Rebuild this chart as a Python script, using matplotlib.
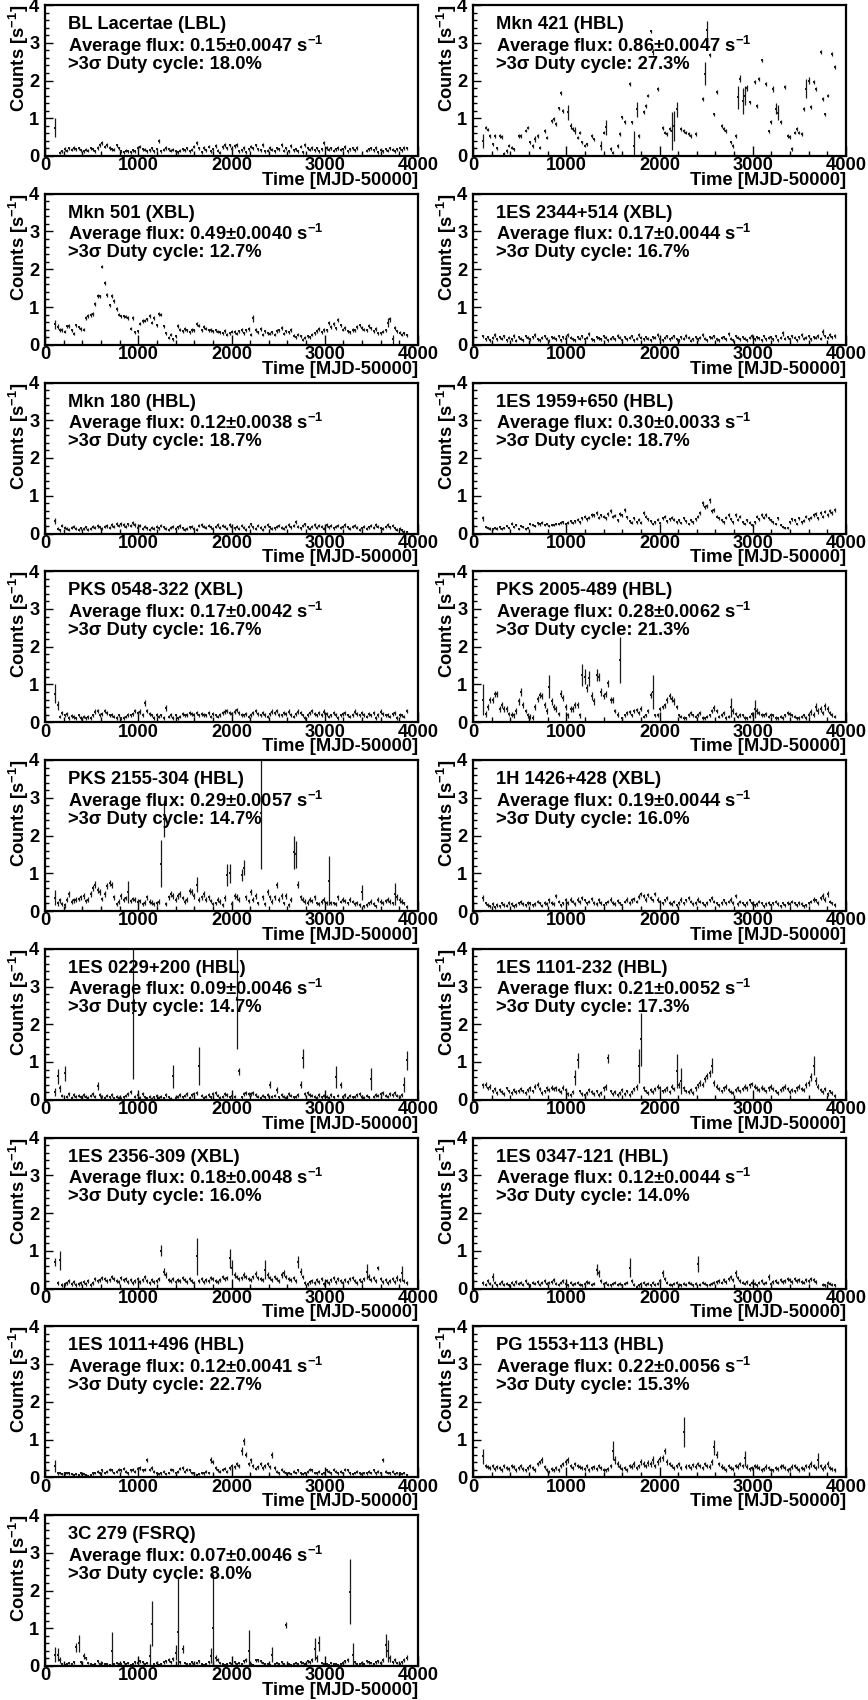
import numpy as np
import matplotlib
matplotlib.use("Agg")
import matplotlib.pyplot as plt
from matplotlib.ticker import MultipleLocator

plt.rcParams["font.family"] = ["Liberation Sans", "DejaVu Sans"]
plt.rcParams["font.weight"] = "bold"
plt.rcParams["mathtext.fontset"] = "custom"
plt.rcParams["mathtext.rm"] = "Liberation Sans:bold"
plt.rcParams["mathtext.default"] = "rm"

# time binning of the light curves (bin centres, days after MJD 50000)
FIRST_BIN_DAY = 110.0
BIN_WIDTH_DAYS = 25.3
N_BINS = 150

# count rates [s^-1] per bin (None = no exposure), errors in units of 0.01 s^-1
BLLAC_RATE = [
    0.75, None, 0.08, 0.12, 0.18, 0.14, 0.20, 0.16, 0.22, 0.18,
    0.20, 0.15, 0.12, 0.16, 0.14, 0.20, 0.18, 0.12, 0.22, 0.30,
    0.35, 0.25, 0.30, 0.22, 0.18, 0.16, 0.28, 0.20, 0.12, 0.10,
    0.14, 0.12, 0.10, 0.15, 0.13, 0.20, 0.25, 0.18, 0.16, 0.12,
    0.15, 0.20, 0.13, 0.18, 0.40, 0.12, 0.16, 0.22, 0.18, 0.14,
    0.17, 0.12, 0.10, 0.14, 0.18, 0.15, 0.20, 0.13, 0.16, 0.25,
    0.35, 0.20, 0.10, 0.22, 0.15, 0.25, 0.12, 0.18, 0.26, 0.14,
    0.08, 0.24, 0.30, 0.20, 0.28, 0.18, 0.26, 0.30, 0.12, 0.15,
    0.22, 0.10, 0.18, 0.25, 0.20, 0.28, 0.18, 0.15, 0.30, 0.12,
    0.14, 0.22, 0.16, 0.12, 0.20, 0.18, 0.30, 0.14, 0.20, 0.12,
    0.26, 0.15, 0.18, 0.12, 0.25, 0.10, 0.30, 0.20, 0.16, 0.22,
    0.15, 0.20, 0.12, 0.18, 0.35, 0.22, 0.16, 0.20, 0.14, 0.18,
    0.22, 0.16, 0.18, 0.24, 0.12, 0.18, 0.20, 0.15, 0.22, None,
    None, None, 0.14, 0.18, 0.20, 0.15, 0.22, 0.10, 0.16, 0.12,
    0.18, 0.14, 0.20, 0.16, 0.12, 0.18, 0.20, 0.15, 0.22, 0.20,
]
BLLAC_ERR = [
    25, 0, 4, 4, 5, 4, 5, 4, 5, 4,
    5, 4, 4, 4, 4, 5, 4, 4, 5, 5,
    6, 5, 5, 5, 4, 4, 5, 5, 4, 4,
    4, 4, 4, 4, 4, 5, 5, 4, 4, 4,
    4, 5, 4, 4, 6, 4, 4, 5, 4, 4,
    4, 4, 4, 4, 4, 4, 5, 4, 4, 5,
    6, 5, 4, 5, 4, 5, 4, 4, 5, 4,
    4, 5, 5, 5, 5, 4, 5, 5, 4, 4,
    5, 4, 4, 5, 5, 5, 4, 4, 5, 4,
    4, 5, 4, 4, 5, 4, 5, 4, 5, 4,
    5, 4, 4, 4, 5, 4, 5, 5, 4, 5,
    4, 5, 4, 4, 6, 5, 4, 5, 4, 4,
    5, 4, 4, 5, 4, 4, 5, 4, 5, 0,
    0, 0, 4, 4, 5, 4, 5, 4, 4, 4,
    4, 4, 5, 4, 4, 4, 5, 4, 5, 5,
]

MKN421_RATE = [
    0.40, 0.75, 0.70, 0.53, 0.31, 0.53, 0.20, 0.53, 0.50, 0.06,
    0.13, 0.27, 0.22, 0.18, None, 0.53, 0.53, None, 0.67, 0.75,
    0.36, 0.27, 0.44, 0.53, 0.22, None, 0.67, 0.49, None, 0.93,
    0.98, 0.84, 1.26, 1.66, 1.20, None, 1.16, 0.80, 0.71, 0.67,
    0.49, 0.62, 0.36, 0.27, 0.31, None, 0.53, 0.44, None, None,
    0.27, 0.62, 0.76, None, 0.18, 0.09, None, 0.27, 0.58, 1.02,
    0.90, None, 1.90, 0.89, 0.27, 1.24, 0.53, None, 1.16, 1.33,
    1.60, 3.30, 2.75, None, 1.78, None, 0.75, 0.62, 0.58, 0.71,
    0.67, 0.80, 1.24, None, 0.71, 0.67, 0.62, 0.58, 0.53, None,
    0.58, None, None, 1.50, 2.18, 3.33, 2.67, None, 1.10, 1.70,
    None, 0.80, 0.71, 0.67, None, 0.36, 0.27, 0.53, 1.55, 2.05,
    1.45, 1.60, 1.80, 1.42, None, 1.96, 1.33, 2.05, 2.53, None,
    1.90, 0.65, 0.90, 1.78, 1.25, 1.15, 0.90, None, 1.82, 0.53,
    0.50, 0.18, 0.62, 0.71, 0.62, 0.58, 1.24, 1.78, 2.00, 1.30,
    1.96, 1.78, None, 2.75, 1.50, 1.10, 1.60, None, 2.70, 2.35,
]
MKN421_ERR = [
    18, 4, 4, 4, 4, 5, 4, 4, 5, 5,
    5, 4, 4, 4, 0, 4, 4, 0, 4, 4,
    5, 5, 8, 4, 4, 0, 5, 4, 0, 5,
    4, 5, 5, 5, 5, 0, 20, 8, 5, 10,
    5, 5, 5, 4, 4, 0, 5, 5, 0, 0,
    12, 5, 20, 0, 5, 5, 0, 5, 5, 5,
    5, 0, 5, 5, 40, 20, 5, 0, 5, 5,
    5, 5, 8, 0, 5, 0, 5, 5, 5, 5,
    50, 40, 20, 0, 5, 5, 5, 5, 5, 0,
    5, 0, 0, 5, 30, 25, 5, 0, 5, 5,
    0, 5, 5, 5, 0, 5, 5, 5, 30, 10,
    35, 25, 8, 5, 0, 5, 5, 5, 5, 0,
    5, 5, 5, 8, 15, 20, 5, 0, 5, 5,
    5, 5, 5, 5, 5, 5, 5, 25, 8, 5,
    5, 5, 0, 5, 5, 5, 5, 0, 5, 5,
]

MKN501_RATE = [
    0.54, 0.48, 0.40, 0.40, 0.34, 0.49, 0.50, 0.38, 0.29, 0.51,
    0.46, 0.42, 0.40, 0.71, 0.76, 0.78, 0.82, 1.07, 1.30, 1.28,
    2.07, 1.63, 1.32, 1.04, 1.30, 1.16, 0.94, 0.80, 0.76, 0.75,
    0.74, 0.71, 0.42, 0.70, 0.33, 0.36, 0.56, 0.62, 0.64, 0.67,
    0.76, 0.58, 0.71, 0.51, 0.82, 0.80, 0.49, 0.31, 0.18, 0.27,
    0.15, 0.22, 0.49, 0.40, 0.36, 0.42, 0.38, 0.33, 0.40, 0.38,
    0.54, 0.50, 0.38, 0.46, 0.42, 0.38, 0.40, 0.36, 0.38, 0.35,
    0.33, 0.30, 0.36, 0.27, 0.31, 0.35, 0.33, 0.29, 0.36, 0.40,
    0.31, 0.38, 0.42, 0.27, 0.70, 0.40, 0.33, 0.42, 0.27, 0.36,
    0.31, 0.29, 0.33, 0.27, 0.36, 0.38, 0.45, 0.29, 0.36, 0.33,
    0.40, 0.24, 0.20, 0.27, 0.22, 0.13, 0.18, 0.22, 0.20, 0.27,
    0.31, 0.36, 0.42, 0.33, 0.40, 0.38, 0.58, 0.47, 0.54, 0.44,
    0.66, 0.51, 0.40, 0.45, 0.36, 0.33, 0.40, 0.38, 0.47, 0.51,
    0.45, 0.40, 0.38, 0.50, 0.44, 0.36, 0.42, 0.31, 0.30, 0.35,
    0.38, 0.58, 0.67, 0.15, 0.45, 0.36, 0.32, 0.27, 0.30, 0.25,
]
MKN501_ERR = [
    12, 6, 5, 5, 4, 4, 5, 4, 4, 5,
    4, 5, 4, 5, 5, 5, 5, 5, 5, 5,
    5, 5, 5, 5, 5, 5, 5, 4, 4, 5,
    4, 5, 4, 5, 4, 4, 5, 5, 4, 5,
    5, 4, 5, 4, 5, 5, 4, 4, 4, 5,
    4, 4, 5, 4, 4, 5, 4, 4, 5, 4,
    5, 4, 4, 5, 4, 4, 5, 4, 4, 4,
    4, 4, 5, 4, 4, 4, 5, 4, 4, 5,
    4, 4, 5, 4, 10, 5, 4, 5, 4, 4,
    4, 4, 4, 4, 5, 4, 5, 4, 4, 4,
    5, 4, 4, 4, 4, 4, 4, 4, 4, 4,
    4, 5, 5, 4, 5, 4, 6, 5, 5, 4,
    6, 5, 4, 5, 4, 4, 5, 4, 5, 5,
    5, 4, 4, 5, 4, 4, 5, 4, 4, 4,
    5, 12, 6, 12, 5, 4, 4, 4, 4, 4,
]

ES2344_RATE = [
    0.22, 0.15, 0.20, 0.12, 0.18, 0.25, 0.14, 0.20, 0.16, 0.22,
    0.12, 0.18, 0.15, 0.24, 0.10, 0.20, 0.16, 0.12, 0.22, 0.18,
    0.14, 0.20, 0.26, 0.15, 0.12, 0.18, 0.22, 0.16, 0.10, 0.20,
    0.18, 0.14, 0.22, 0.12, 0.20, 0.16, 0.25, 0.18, 0.14, 0.12,
    0.20, 0.16, 0.22, 0.14, 0.18, 0.28, 0.15, 0.12, 0.20, 0.17,
    0.14, 0.22, 0.18, 0.12, 0.16, 0.20, 0.15, 0.24, 0.18, 0.12,
    0.20, 0.15, 0.18, 0.22, 0.12, 0.16, 0.25, 0.18, 0.14, 0.20,
    0.16, 0.12, 0.20, 0.18, 0.26, 0.15, 0.12, 0.18, 0.22, 0.14,
    0.18, 0.22, 0.15, 0.12, 0.20, 0.16, 0.24, 0.18, 0.10, 0.15,
    0.20, 0.14, 0.18, 0.25, 0.16, 0.12, 0.20, 0.18, 0.22, 0.15,
    0.12, 0.18, 0.20, 0.15, 0.28, 0.16, 0.12, 0.22, 0.18, 0.14,
    0.20, 0.16, 0.12, 0.18, 0.24, 0.15, 0.20, 0.17, 0.12, 0.22,
    0.15, 0.18, 0.20, 0.14, 0.22, 0.12, 0.18, 0.30, 0.16, 0.20,
    0.14, 0.22, 0.18, 0.12, 0.20, 0.25, 0.16, 0.18, 0.22, 0.15,
    0.20, 0.18, 0.24, 0.16, 0.35, 0.22, 0.18, 0.26, 0.20, 0.24,
]
ES2344_ERR = [
    5, 4, 4, 4, 4, 5, 4, 4, 4, 5,
    4, 4, 4, 5, 4, 4, 4, 4, 5, 4,
    4, 4, 5, 4, 4, 4, 5, 4, 4, 4,
    4, 4, 5, 4, 4, 4, 5, 4, 4, 4,
    4, 4, 5, 4, 4, 5, 4, 4, 4, 4,
    4, 5, 4, 4, 4, 4, 4, 5, 4, 4,
    4, 4, 4, 5, 4, 4, 5, 4, 4, 4,
    4, 4, 4, 4, 5, 4, 4, 4, 5, 4,
    4, 5, 4, 4, 4, 4, 5, 4, 4, 4,
    4, 4, 4, 5, 4, 4, 4, 4, 5, 4,
    4, 4, 4, 4, 5, 4, 4, 5, 4, 4,
    4, 4, 4, 4, 5, 4, 4, 4, 4, 5,
    4, 4, 4, 4, 5, 4, 4, 6, 4, 4,
    4, 5, 4, 4, 4, 5, 4, 4, 5, 4,
    4, 4, 5, 4, 8, 5, 4, 6, 4, 5,
]

MKN180_RATE = [
    0.32, 0.12, 0.08, 0.20, 0.15, 0.12, 0.10, 0.15, 0.18, 0.12,
    0.10, 0.14, 0.12, 0.16, 0.10, 0.13, 0.18, 0.15, 0.20, 0.16,
    0.12, 0.18, 0.20, 0.15, 0.22, 0.18, 0.25, 0.20, 0.26, 0.22,
    0.18, 0.24, 0.20, 0.28, 0.22, 0.15, 0.20, 0.12, 0.18, 0.14,
    0.10, 0.15, 0.12, 0.18, 0.14, 0.20, 0.16, 0.12, 0.10, 0.15,
    0.18, 0.12, 0.16, 0.20, 0.14, 0.10, 0.12, 0.16, 0.18, 0.12,
    0.10, 0.20, 0.22, 0.18, 0.15, 0.20, 0.16, 0.12, 0.18, 0.22,
    0.15, 0.20, 0.18, 0.12, 0.22, 0.16, 0.14, 0.18, 0.12, 0.20,
    0.15, 0.10, 0.18, 0.24, 0.16, 0.12, 0.20, 0.15, 0.10, 0.18,
    0.22, 0.16, 0.12, 0.14, 0.18, 0.20, 0.15, 0.12, 0.18, 0.22,
    0.16, 0.20, 0.30, 0.18, 0.14, 0.20, 0.24, 0.16, 0.12, 0.18,
    0.22, 0.15, 0.20, 0.18, 0.12, 0.22, 0.16, 0.20, 0.14, 0.18,
    0.20, 0.15, 0.18, 0.22, 0.16, 0.12, 0.18, 0.20, 0.15, 0.10,
    0.14, 0.18, 0.12, 0.16, 0.20, 0.15, 0.22, 0.18, 0.14, 0.12,
    0.18, 0.22, 0.16, 0.20, 0.14, 0.10, 0.12, 0.08, 0.05, 0.04,
]
MKN180_ERR = [
    8, 4, 4, 4, 4, 4, 4, 4, 4, 4,
    4, 4, 4, 4, 4, 4, 4, 4, 5, 4,
    4, 4, 5, 4, 5, 4, 5, 4, 5, 5,
    4, 5, 4, 5, 5, 4, 4, 4, 4, 4,
    4, 4, 4, 4, 4, 4, 4, 4, 4, 4,
    4, 4, 4, 5, 4, 4, 4, 4, 4, 4,
    4, 4, 5, 4, 4, 4, 4, 4, 4, 5,
    4, 4, 4, 4, 5, 4, 4, 4, 4, 4,
    4, 4, 4, 5, 4, 4, 4, 4, 4, 4,
    5, 4, 4, 4, 4, 4, 4, 4, 4, 5,
    4, 4, 6, 4, 4, 4, 5, 4, 4, 4,
    5, 4, 4, 4, 4, 5, 4, 4, 4, 4,
    4, 4, 4, 5, 4, 4, 4, 4, 4, 4,
    4, 4, 4, 4, 4, 4, 5, 4, 4, 4,
    4, 5, 4, 4, 4, 4, 4, 3, 3, 3,
]

ES1959_RATE = [
    0.40, 0.18, 0.14, 0.13, 0.12, 0.15, 0.13, 0.16, 0.12, 0.14,
    0.20, 0.15, 0.26, 0.18, 0.22, 0.12, 0.20, 0.17, 0.12, 0.15,
    0.25, 0.22, 0.20, 0.27, 0.24, 0.28, 0.22, 0.26, 0.20, 0.23,
    0.22, 0.26, 0.25, 0.28, 0.30, 0.25, 0.29, 0.32, 0.28, 0.33,
    0.36, 0.30, 0.40, 0.45, 0.38, 0.42, 0.50, 0.48, 0.54, 0.42,
    0.48, 0.45, 0.40, 0.52, 0.60, 0.44, 0.47, 0.35, 0.52, 0.48,
    0.62, 0.43, 0.33, 0.28, 0.40, 0.30, 0.36, 0.28, 0.55, 0.45,
    0.38, 0.32, 0.26, 0.30, 0.36, 0.27, 0.40, 0.45, 0.33, 0.38,
    0.42, 0.36, 0.30, 0.35, 0.28, 0.40, 0.32, 0.26, 0.35, 0.30,
    0.38, 0.45, 0.55, 0.80, 0.70, 0.72, 0.88, 0.60, 0.62, 0.45,
    0.40, 0.35, 0.30, 0.42, 0.48, 0.38, 0.30, 0.50, 0.36, 0.44,
    0.30, 0.26, 0.35, 0.28, 0.22, 0.30, 0.45, 0.38, 0.50, 0.42,
    0.48, 0.40, 0.35, 0.30, 0.26, 0.40, 0.22, 0.18, 0.15, 0.14,
    0.30, 0.38, 0.35, 0.25, 0.40, 0.30, 0.34, 0.45, 0.38, 0.42,
    0.48, 0.52, 0.40, 0.55, 0.45, 0.58, 0.50, 0.60, 0.55, 0.62,
]
ES1959_ERR = [
    6, 3, 3, 3, 3, 3, 3, 3, 3, 3,
    3, 3, 4, 3, 3, 3, 3, 3, 3, 3,
    3, 3, 3, 4, 3, 4, 3, 3, 3, 3,
    3, 3, 3, 4, 4, 3, 4, 4, 3, 4,
    4, 4, 4, 4, 4, 4, 5, 4, 5, 4,
    4, 4, 4, 5, 5, 4, 4, 4, 5, 4,
    5, 4, 4, 4, 4, 4, 4, 4, 5, 4,
    4, 4, 3, 4, 4, 3, 4, 4, 4, 4,
    4, 4, 4, 4, 3, 4, 4, 3, 4, 4,
    4, 4, 5, 6, 5, 5, 6, 5, 5, 4,
    4, 4, 4, 4, 5, 4, 4, 5, 4, 4,
    4, 3, 4, 4, 3, 4, 4, 4, 5, 4,
    5, 4, 4, 4, 3, 4, 3, 3, 3, 3,
    4, 4, 4, 3, 4, 4, 4, 4, 4, 4,
    5, 5, 4, 5, 4, 5, 5, 5, 5, 5,
]

PKS0548_RATE = [
    0.75, 0.45, 0.15, 0.25, 0.18, 0.22, 0.12, 0.16, 0.14, 0.10,
    0.18, 0.12, 0.15, 0.10, 0.14, 0.12, 0.18, 0.28, 0.30, 0.20,
    0.22, 0.30, 0.25, 0.18, 0.20, 0.15, 0.12, 0.18, 0.10, 0.12,
    0.15, 0.20, 0.18, 0.22, 0.30, 0.25, 0.28, 0.20, 0.50, 0.30,
    0.22, 0.18, 0.12, 0.20, 0.15, 0.18, 0.12, 0.38, 0.15, 0.20,
    0.12, 0.18, 0.10, 0.15, 0.22, 0.18, 0.20, 0.24, 0.22, 0.20,
    0.25, 0.18, 0.22, 0.20, 0.18, 0.25, 0.15, 0.22, 0.18, 0.15,
    0.20, 0.25, 0.28, 0.30, 0.25, 0.22, 0.28, 0.32, 0.25, 0.20,
    0.18, 0.22, 0.15, 0.20, 0.25, 0.30, 0.22, 0.18, 0.25, 0.20,
    0.15, 0.22, 0.28, 0.25, 0.30, 0.20, 0.18, 0.25, 0.22, 0.28,
    0.20, 0.15, 0.22, 0.28, 0.25, 0.18, 0.12, 0.20, 0.24, 0.30,
    0.22, 0.18, 0.25, 0.20, 0.28, 0.22, 0.15, 0.18, 0.25, 0.20,
    0.12, 0.18, 0.22, 0.25, 0.18, 0.15, 0.20, 0.28, 0.22, 0.18,
    0.25, 0.20, 0.15, 0.22, 0.18, 0.25, 0.12, 0.20, 0.28, 0.22,
    0.18, 0.20, 0.15, 0.22, 0.25, 0.12, 0.20, 0.18, 0.15, 0.30,
]
PKS0548_ERR = [
    25, 12, 5, 5, 5, 5, 5, 5, 5, 5,
    5, 5, 5, 5, 5, 5, 5, 6, 6, 5,
    5, 6, 5, 5, 5, 5, 5, 5, 5, 5,
    5, 5, 5, 5, 6, 5, 6, 5, 8, 6,
    5, 5, 5, 5, 5, 5, 5, 8, 5, 5,
    5, 5, 5, 5, 5, 5, 5, 5, 5, 5,
    5, 5, 5, 5, 5, 5, 5, 5, 5, 5,
    5, 5, 6, 6, 5, 5, 6, 6, 5, 5,
    5, 5, 5, 5, 5, 6, 5, 5, 5, 5,
    5, 5, 6, 5, 6, 5, 5, 5, 5, 6,
    5, 5, 5, 6, 5, 5, 5, 5, 5, 6,
    5, 5, 5, 5, 6, 5, 5, 5, 5, 5,
    5, 5, 5, 5, 5, 5, 5, 6, 5, 5,
    5, 5, 5, 5, 5, 5, 5, 5, 6, 5,
    5, 5, 5, 5, 5, 5, 5, 5, 5, 6,
]

PKS2005_RATE = [
    0.60, 0.22, 0.40, 0.58, 0.58, 0.76, 0.76, 0.35, 0.45, 0.36,
    0.36, 0.22, 0.20, 0.18, 0.30, 0.55, 0.80, 0.45, 0.30, 0.18,
    0.15, 0.12, 0.40, 0.62, 0.72, 0.70, 0.45, 0.30, 0.94, 0.55,
    0.40, 0.36, 0.22, 0.76, 0.65, 0.40, 0.18, 0.36, 0.36, 0.45,
    0.45, 0.18, 1.25, 1.20, 0.90, 1.16, 0.70, 0.55, 1.25, 1.20,
    0.80, 0.70, 0.76, 1.03, 0.60, 0.58, 0.30, 0.20, 1.65, 0.10,
    0.18, 0.25, 0.27, 0.18, 0.30, 0.32, 0.25, 0.36, 0.15, 0.18,
    0.30, 0.72, 0.80, 0.18, 0.20, 0.35, 0.40, 0.45, 0.60, 0.70,
    0.62, 0.55, 0.40, 0.18, 0.15, 0.12, 0.10, 0.20, 0.25, 0.18,
    0.15, 0.20, 0.25, 0.12, 0.10, 0.15, 0.18, 0.30, 0.38, 0.30,
    0.15, 0.20, 0.25, 0.12, 0.15, 0.40, 0.30, 0.22, 0.15, 0.20,
    0.18, 0.12, 0.10, 0.15, 0.22, 0.35, 0.30, 0.25, 0.20, 0.18,
    0.22, 0.15, 0.20, 0.18, 0.12, 0.10, 0.15, 0.12, 0.18, 0.25,
    0.22, 0.18, 0.15, 0.10, 0.12, 0.15, 0.18, 0.12, 0.20, 0.28,
    0.20, 0.40, 0.30, 0.35, 0.25, 0.42, 0.35, 0.25, 0.20, 0.15,
]
PKS2005_ERR = [
    40, 8, 8, 8, 8, 8, 8, 8, 8, 8,
    8, 6, 6, 6, 8, 8, 10, 8, 6, 6,
    6, 6, 8, 8, 8, 8, 8, 8, 30, 10,
    8, 8, 6, 10, 8, 8, 6, 8, 8, 8,
    8, 6, 30, 20, 10, 20, 10, 8, 15, 10,
    10, 8, 8, 10, 8, 8, 6, 6, 60, 5,
    5, 5, 5, 5, 6, 6, 5, 6, 5, 5,
    6, 8, 45, 5, 5, 6, 6, 6, 8, 8,
    8, 8, 6, 5, 5, 5, 5, 5, 5, 5,
    5, 5, 5, 5, 5, 5, 5, 6, 8, 6,
    5, 5, 5, 5, 5, 25, 8, 6, 5, 5,
    5, 5, 5, 5, 6, 25, 8, 6, 5, 5,
    5, 5, 5, 5, 5, 5, 5, 5, 5, 6,
    5, 5, 5, 5, 5, 5, 5, 5, 6, 8,
    6, 10, 8, 8, 6, 10, 8, 6, 5, 5,
]

PKS2155_RATE = [
    0.35, 0.20, 0.28, 0.18, 0.15, 0.30, 0.45, 0.25, 0.28, 0.30,
    0.32, 0.36, 0.40, 0.27, 0.30, 0.45, 0.62, 0.70, 0.55, 0.50,
    0.32, 0.45, 0.67, 0.73, 0.70, 0.36, 0.18, 0.25, 0.40, 0.30,
    0.35, 0.50, 0.27, 0.32, 0.30, 0.25, 0.27, 0.18, 0.22, 0.36,
    0.25, 0.22, 0.18, 0.20, 0.25, 1.25, 2.45, 0.18, 0.36, 0.45,
    0.40, 0.30, 0.40, 0.45, 0.35, 0.25, 0.30, 0.54, 0.50, 0.40,
    0.70, 0.30, 0.36, 0.45, 0.30, 0.36, 0.27, 0.18, 0.20, 0.30,
    0.25, 0.15, 0.35, 0.95, 1.00, 0.18, 0.40, 0.36, 0.30, 0.95,
    1.15, 0.36, 0.27, 0.50, 0.30, 0.40, 0.20, 2.60, 0.36, 0.18,
    0.50, 0.36, 0.25, 0.36, 0.70, 0.30, 0.40, 0.20, 0.40, 0.15,
    0.30, 1.55, 1.50, 0.70, 0.36, 0.30, 0.25, 0.22, 0.30, 0.27,
    0.36, 0.20, 0.18, 0.25, 0.30, 0.22, 0.80, 0.22, 0.20, 0.18,
    0.36, 0.25, 0.30, 0.27, 0.20, 0.30, 0.25, 0.18, 0.22, 0.15,
    0.50, 0.12, 0.15, 0.20, 0.25, 0.18, 0.12, 0.30, 0.25, 0.22,
    0.27, 0.30, 0.25, 0.20, 0.45, 0.36, 0.30, 0.25, 0.20, 0.10,
]
PKS2155_ERR = [
    20, 6, 6, 6, 6, 6, 8, 6, 6, 6,
    6, 6, 8, 6, 6, 8, 8, 10, 8, 8,
    6, 8, 8, 8, 8, 6, 5, 6, 8, 6,
    6, 30, 6, 6, 6, 6, 6, 5, 6, 6,
    6, 6, 5, 6, 6, 62, 50, 5, 6, 8,
    8, 6, 8, 8, 6, 6, 6, 8, 8, 8,
    20, 6, 6, 8, 6, 6, 6, 5, 5, 6,
    6, 5, 8, 30, 25, 5, 8, 8, 6, 15,
    20, 6, 6, 8, 6, 8, 5, 150, 6, 5,
    8, 6, 6, 6, 8, 6, 8, 5, 8, 5,
    6, 45, 35, 10, 6, 6, 6, 6, 6, 6,
    6, 5, 5, 6, 6, 5, 65, 5, 5, 5,
    6, 5, 6, 6, 5, 6, 5, 5, 5, 5,
    20, 5, 5, 5, 6, 5, 5, 6, 6, 5,
    6, 6, 6, 5, 30, 8, 8, 6, 5, 5,
]

H1426_RATE = [
    0.35, 0.20, 0.15, 0.12, 0.18, 0.10, 0.15, 0.12, 0.20, 0.16,
    0.14, 0.22, 0.18, 0.12, 0.15, 0.20, 0.24, 0.18, 0.15, 0.22,
    0.20, 0.15, 0.18, 0.25, 0.20, 0.14, 0.22, 0.18, 0.28, 0.22,
    0.18, 0.40, 0.25, 0.15, 0.20, 0.28, 0.22, 0.30, 0.25, 0.18,
    0.30, 0.24, 0.35, 0.28, 0.20, 0.25, 0.32, 0.22, 0.18, 0.28,
    0.22, 0.15, 0.20, 0.25, 0.30, 0.22, 0.18, 0.26, 0.20, 0.15,
    0.25, 0.30, 0.22, 0.28, 0.32, 0.25, 0.38, 0.45, 0.40, 0.30,
    0.42, 0.35, 0.28, 0.45, 0.30, 0.25, 0.20, 0.28, 0.35, 0.22,
    0.18, 0.25, 0.15, 0.22, 0.30, 0.20, 0.28, 0.35, 0.25, 0.18,
    0.22, 0.30, 0.25, 0.20, 0.15, 0.22, 0.28, 0.35, 0.25, 0.20,
    0.15, 0.22, 0.28, 0.20, 0.25, 0.30, 0.22, 0.40, 0.18, 0.25,
    0.20, 0.15, 0.22, 0.28, 0.20, 0.15, 0.18, 0.25, 0.20, 0.12,
    0.18, 0.22, 0.15, 0.20, 0.25, 0.18, 0.12, 0.20, 0.15, 0.22,
    0.18, 0.25, 0.20, 0.15, 0.22, 0.18, 0.12, 0.15, 0.20, 0.25,
    0.30, 0.28, 0.22, 0.35, 0.40, 0.30, 0.45, 0.25, 0.20, 0.15,
]
H1426_ERR = [
    8, 5, 5, 4, 5, 4, 5, 4, 5, 5,
    4, 5, 5, 4, 5, 5, 5, 5, 4, 5,
    5, 4, 5, 5, 5, 4, 5, 5, 6, 5,
    5, 6, 5, 4, 5, 6, 5, 6, 5, 5,
    6, 5, 6, 5, 5, 5, 6, 5, 5, 6,
    5, 4, 5, 5, 6, 5, 5, 5, 5, 4,
    5, 6, 5, 6, 6, 5, 6, 6, 6, 6,
    6, 6, 5, 6, 6, 5, 5, 5, 6, 5,
    5, 5, 4, 5, 6, 5, 5, 6, 5, 5,
    5, 6, 5, 5, 4, 5, 5, 6, 5, 5,
    4, 5, 5, 5, 5, 6, 5, 6, 5, 5,
    5, 4, 5, 5, 5, 4, 5, 5, 5, 4,
    5, 5, 4, 5, 5, 5, 4, 5, 4, 5,
    5, 5, 5, 4, 5, 5, 4, 4, 5, 5,
    6, 5, 5, 6, 8, 6, 8, 5, 5, 5,
]

ES0229_RATE = [
    0.20, 0.62, 0.30, 0.10, 0.70, 0.08, 0.15, 0.05, 0.12, 0.08,
    0.10, 0.06, 0.12, 0.08, 0.05, 0.10, 0.15, 0.08, 0.36, 0.12,
    0.08, 0.05, 0.10, 0.06, 0.12, 0.04, 0.08, 0.05, 0.03, 0.06,
    0.10, 0.15, 0.20, 2.30, 0.08, 0.12, 0.05, 0.15, 0.06, 0.04,
    0.08, 0.03, 0.06, 0.10, 0.05, 0.08, 0.04, 0.12, 0.06, 0.03,
    0.62, 0.05, 0.08, 0.12, 0.06, 0.10, 0.15, 0.05, 0.12, 0.15,
    0.18, 0.90, 0.10, 0.05, 0.08, 0.12, 0.06, 0.15, 0.18, 0.10,
    0.05, 0.08, 0.15, 0.12, 0.06, 0.10, 0.08, 2.70, 0.75, 0.06,
    0.15, 0.18, 0.15, 0.16, 0.18, 0.12, 0.08, 0.05, 0.10, 0.06,
    0.12, 0.40, 0.08, 0.10, 0.25, 0.06, 0.12, 0.08, 0.05, 0.15,
    0.10, 0.06, 0.08, 0.12, 0.40, 1.10, 0.15, 0.18, 0.12, 0.10,
    0.08, 0.05, 0.12, 0.06, 0.10, 0.08, 0.05, 0.12, 0.06, 0.60,
    0.10, 0.40, 0.08, 0.12, 0.05, 0.10, 0.06, 0.08, 0.12, 0.15,
    0.08, 0.05, 0.10, 0.06, 0.55, 0.08, 0.12, 0.10, 0.15, 0.18,
    0.10, 0.08, 0.15, 0.12, 0.18, 0.10, 0.08, 0.12, 0.40, 1.05,
]
ES0229_ERR = [
    10, 20, 10, 4, 20, 4, 5, 4, 5, 4,
    4, 4, 5, 4, 4, 4, 5, 4, 10, 5,
    4, 4, 4, 4, 5, 4, 4, 4, 3, 4,
    4, 5, 6, 175, 4, 5, 4, 5, 4, 4,
    4, 3, 4, 4, 4, 4, 3, 5, 4, 3,
    30, 4, 4, 5, 4, 4, 5, 4, 5, 5,
    6, 50, 4, 4, 4, 5, 4, 5, 6, 4,
    4, 4, 5, 5, 4, 4, 4, 135, 10, 4,
    5, 6, 5, 5, 6, 5, 4, 4, 4, 4,
    5, 10, 4, 4, 8, 4, 5, 4, 4, 5,
    4, 4, 4, 5, 10, 25, 5, 6, 5, 4,
    4, 4, 5, 4, 4, 4, 4, 5, 4, 30,
    4, 8, 4, 5, 4, 4, 4, 4, 5, 5,
    4, 4, 4, 4, 30, 4, 5, 4, 5, 6,
    4, 4, 5, 5, 6, 4, 4, 5, 20, 25,
]

ES1101_RATE = [
    0.38, 0.40, 0.30, 0.35, 0.22, 0.28, 0.18, 0.25, 0.20, 0.15,
    0.30, 0.22, 0.18, 0.25, 0.20, 0.24, 0.28, 0.22, 0.18, 0.25,
    0.30, 0.22, 0.35, 0.40, 0.28, 0.18, 0.22, 0.30, 0.25, 0.32,
    0.28, 0.30, 0.25, 0.20, 0.32, 0.26, 0.15, 0.12, 0.20, 0.60,
    1.05, 0.22, 0.15, 0.12, 0.18, 0.25, 0.20, 0.15, 0.22, 0.12,
    0.18, 0.30, 0.35, 1.10, 0.22, 0.15, 0.20, 0.12, 0.18, 0.25,
    0.15, 0.22, 0.12, 0.20, 0.28, 0.35, 0.90, 1.60, 0.30, 0.22,
    0.18, 0.25, 0.20, 0.28, 0.35, 0.30, 0.22, 0.25, 0.30, 0.20,
    0.35, 0.28, 0.75, 0.40, 0.50, 0.30, 0.22, 0.20, 0.25, 0.18,
    0.30, 0.38, 0.45, 0.40, 0.55, 0.62, 0.70, 0.90, 0.45, 0.35,
    0.28, 0.22, 0.30, 0.35, 0.25, 0.20, 0.18, 0.25, 0.30, 0.22,
    0.28, 0.35, 0.30, 0.38, 0.42, 0.35, 0.30, 0.25, 0.32, 0.28,
    0.22, 0.30, 0.35, 0.28, 0.22, 0.18, 0.25, 0.30, 0.35, 0.28,
    0.20, 0.25, 0.22, 0.30, 0.35, 0.28, 0.25, 0.40, 0.45, 0.60,
    0.90, 0.50, 0.35, 0.25, 0.20, 0.28, 0.15, 0.22, 0.18, 0.10,
]
ES1101_ERR = [
    6, 6, 5, 6, 5, 5, 5, 5, 5, 5,
    5, 5, 5, 5, 5, 5, 6, 5, 5, 5,
    6, 5, 6, 6, 5, 5, 5, 6, 5, 6,
    5, 6, 5, 5, 6, 5, 5, 5, 5, 20,
    20, 5, 5, 5, 5, 5, 5, 5, 5, 5,
    5, 6, 8, 12, 5, 5, 5, 5, 5, 5,
    5, 5, 5, 5, 6, 8, 45, 70, 6, 5,
    5, 5, 5, 6, 6, 6, 5, 5, 6, 5,
    6, 6, 45, 8, 35, 6, 5, 5, 5, 5,
    6, 6, 8, 6, 8, 8, 10, 20, 8, 6,
    6, 5, 6, 6, 5, 5, 5, 5, 6, 5,
    6, 6, 6, 6, 6, 6, 6, 5, 6, 6,
    5, 6, 6, 6, 5, 5, 5, 6, 6, 6,
    5, 5, 5, 6, 6, 6, 5, 8, 8, 10,
    25, 10, 6, 5, 5, 6, 5, 5, 5, 5,
]

ES2356_RATE = [
    0.70, 0.15, 0.75, 0.10, 0.12, 0.15, 0.20, 0.12, 0.18, 0.10,
    0.12, 0.15, 0.18, 0.12, 0.20, 0.10, 0.15, 0.25, 0.20, 0.22,
    0.28, 0.25, 0.20, 0.22, 0.30, 0.25, 0.20, 0.18, 0.28, 0.22,
    0.25, 0.18, 0.22, 0.15, 0.20, 0.25, 0.18, 0.22, 0.30, 0.20,
    0.15, 0.22, 0.18, 0.20, 0.25, 1.00, 0.45, 0.35, 0.22, 0.20,
    0.25, 0.18, 0.22, 0.20, 0.28, 0.22, 0.18, 0.25, 0.20, 0.15,
    0.85, 0.20, 0.25, 0.18, 0.22, 0.20, 0.28, 0.25, 0.20, 0.18,
    0.22, 0.30, 0.25, 0.28, 0.80, 0.55, 0.35, 0.30, 0.25, 0.28,
    0.35, 0.30, 0.25, 0.22, 0.30, 0.38, 0.28, 0.25, 0.22, 0.50,
    0.35, 0.28, 0.22, 0.30, 0.25, 0.20, 0.35, 0.40, 0.30, 0.25,
    0.22, 0.28, 0.20, 0.70, 0.45, 0.30, 0.15, 0.12, 0.18, 0.20,
    0.15, 0.22, 0.18, 0.25, 0.12, 0.20, 0.15, 0.22, 0.28, 0.18,
    0.25, 0.20, 0.15, 0.22, 0.18, 0.25, 0.28, 0.20, 0.15, 0.22,
    0.18, 0.25, 0.45, 0.30, 0.22, 0.28, 0.20, 0.55, 0.25, 0.18,
    0.22, 0.15, 0.20, 0.25, 0.18, 0.28, 0.22, 0.40, 0.20, 0.15,
]
ES2356_ERR = [
    10, 5, 25, 5, 5, 5, 5, 5, 5, 5,
    5, 5, 5, 5, 5, 5, 5, 6, 5, 5,
    6, 6, 5, 5, 6, 6, 5, 5, 6, 5,
    6, 5, 5, 5, 5, 6, 5, 5, 6, 5,
    5, 5, 5, 5, 6, 15, 10, 8, 5, 5,
    6, 5, 5, 5, 6, 5, 5, 6, 5, 5,
    50, 5, 6, 5, 5, 5, 6, 6, 5, 5,
    5, 6, 6, 6, 25, 20, 8, 6, 6, 6,
    8, 6, 6, 5, 6, 8, 6, 6, 5, 25,
    8, 6, 5, 6, 6, 5, 8, 8, 6, 6,
    5, 6, 5, 15, 8, 6, 5, 5, 5, 5,
    5, 5, 5, 6, 5, 5, 5, 5, 6, 5,
    6, 5, 5, 5, 5, 6, 6, 5, 5, 5,
    5, 6, 20, 8, 6, 6, 5, 5, 6, 5,
    6, 5, 5, 6, 5, 8, 6, 20, 6, 5,
]

ES0347_RATE = [
    0.15, 0.10, 0.20, 0.12, 0.30, 0.15, 0.08, 0.12, 0.18, 0.10,
    0.12, 0.08, 0.15, 0.10, 0.18, 0.12, 0.15, 0.10, 0.20, 0.12,
    0.08, 0.15, 0.12, 0.18, 0.10, 0.15, 0.20, 0.12, 0.15, 0.18,
    0.22, 0.12, 0.10, 0.15, 0.20, 0.12, 0.08, 0.15, 0.10, 0.12,
    0.15, 0.10, 0.08, 0.12, 0.18, 0.15, 0.10, 0.12, 0.50, 0.40,
    0.20, 0.12, 0.15, 0.10, 0.08, 0.12, 0.15, 0.10, 0.12, 0.08,
    0.12, 0.15, 0.55, 0.20, 0.10, 0.05, 0.08, 0.12, 0.15, 0.10,
    0.12, 0.08, 0.15, 0.10, 0.12, 0.20, 0.40, 0.25, 0.15, 0.10,
    0.08, 0.12, 0.15, 0.10, 0.08, 0.12, 0.10, 0.15, 0.12, 0.08,
    0.12, 0.65, 0.10, 0.15, 0.12, 0.08, 0.10, 0.12, 0.15, 0.18,
    0.20, 0.15, 0.22, 0.18, 0.25, 0.30, 0.22, 0.40, 0.28, 0.20,
    0.15, 0.12, 0.18, 0.10, 0.15, 0.12, 0.08, 0.15, 0.20, 0.12,
    0.15, 0.30, 0.12, 0.18, 0.20, 0.15, 0.22, 0.18, 0.20, 0.25,
    0.22, 0.18, 0.25, 0.20, 0.22, 0.18, 0.15, 0.22, 0.20, 0.25,
    0.22, 0.18, None, None, 0.10, 0.08, 0.15, 0.12, 0.10, 0.08,
]
ES0347_ERR = [
    5, 4, 5, 4, 10, 4, 4, 4, 5, 4,
    4, 4, 4, 4, 5, 4, 4, 4, 5, 4,
    4, 4, 4, 5, 4, 4, 5, 4, 4, 5,
    5, 4, 4, 4, 5, 4, 4, 4, 4, 4,
    4, 4, 4, 4, 5, 4, 4, 4, 15, 10,
    5, 4, 4, 4, 4, 4, 4, 4, 4, 4,
    4, 4, 25, 5, 4, 4, 4, 4, 4, 4,
    4, 4, 4, 4, 4, 5, 10, 6, 4, 4,
    4, 4, 4, 4, 4, 4, 4, 4, 4, 4,
    4, 20, 4, 4, 4, 4, 4, 4, 4, 5,
    5, 4, 5, 5, 6, 6, 5, 10, 6, 5,
    4, 4, 5, 4, 4, 4, 4, 4, 5, 4,
    4, 8, 4, 5, 5, 4, 5, 5, 5, 5,
    5, 5, 5, 5, 5, 5, 4, 5, 5, 5,
    5, 5, 0, 0, 4, 4, 4, 4, 4, 4,
]

ES1011_RATE = [
    0.30, 0.10, 0.12, 0.08, 0.10, 0.12, 0.10, 0.08, 0.05, 0.08,
    0.06, 0.10, 0.08, 0.05, 0.03, 0.06, 0.10, 0.12, 0.15, 0.10,
    0.18, 0.12, 0.15, 0.20, 0.18, 0.12, 0.15, 0.20, 0.18, 0.22,
    0.15, 0.10, 0.18, 0.20, 0.15, 0.22, 0.25, 0.18, 0.20, 0.45,
    0.20, 0.25, 0.15, 0.12, 0.08, 0.10, 0.15, 0.08, 0.12, 0.20,
    0.18, 0.12, 0.15, 0.22, 0.25, 0.15, 0.20, 0.18, 0.12, 0.10,
    0.05, 0.08, 0.12, 0.10, 0.15, 0.12, 0.45, 0.40, 0.25, 0.18,
    0.15, 0.20, 0.22, 0.15, 0.25, 0.30, 0.28, 0.35, 0.30, 0.70,
    0.95, 0.60, 0.35, 0.45, 0.30, 0.22, 0.28, 0.35, 0.25, 0.30,
    0.35, 0.28, 0.60, 0.25, 0.15, 0.10, 0.20, 0.15, 0.10, 0.12,
    0.08, 0.15, 0.12, 0.18, 0.10, 0.08, 0.12, 0.15, 0.20, 0.18,
    0.12, 0.10, 0.15, 0.08, 0.12, 0.18, 0.15, 0.10, 0.20, 0.15,
    0.10, 0.15, 0.12, 0.20, 0.18, 0.10, 0.08, 0.12, 0.15, 0.10,
    0.08, 0.12, 0.10, 0.15, 0.12, 0.18, 0.10, 0.15, 0.12, 0.45,
    0.15, 0.12, 0.10, 0.15, 0.08, 0.12, 0.10, 0.08, 0.12, 0.05,
]
ES1011_ERR = [
    15, 3, 3, 3, 3, 3, 3, 3, 3, 3,
    3, 3, 3, 3, 3, 3, 3, 3, 4, 3,
    4, 3, 4, 4, 4, 3, 4, 4, 4, 4,
    4, 3, 4, 4, 4, 4, 5, 4, 4, 5,
    4, 5, 4, 3, 3, 3, 4, 3, 3, 4,
    4, 3, 4, 4, 5, 4, 4, 4, 3, 3,
    3, 3, 3, 3, 4, 3, 8, 6, 5, 4,
    4, 4, 4, 4, 5, 5, 5, 5, 5, 10,
    10, 6, 5, 6, 5, 4, 5, 5, 5, 5,
    5, 5, 8, 5, 4, 3, 4, 4, 3, 3,
    3, 4, 3, 4, 3, 3, 3, 4, 4, 4,
    3, 3, 4, 3, 3, 4, 4, 3, 4, 4,
    3, 4, 3, 4, 4, 3, 3, 3, 4, 3,
    3, 3, 3, 4, 3, 4, 3, 4, 3, 5,
    4, 3, 3, 4, 3, 3, 3, 3, 3, 3,
]

PG1553_RATE = [
    0.55, 0.30, 0.28, 0.25, 0.30, 0.22, 0.28, 0.25, 0.20, 0.30,
    0.25, 0.22, 0.30, 0.28, 0.20, 0.25, 0.30, 0.22, 0.18, 0.25,
    0.30, 0.25, 0.20, 0.35, 0.40, 0.45, 0.28, 0.20, 0.15, 0.22,
    0.18, 0.25, 0.20, 0.30, 0.35, 0.40, 0.45, 0.30, 0.25, 0.35,
    0.30, 0.28, 0.25, 0.22, 0.30, 0.20, 0.25, 0.28, 0.22, 0.30,
    0.25, 0.20, 0.18, 0.22, 0.30, 0.70, 0.45, 0.35, 0.28, 0.22,
    0.25, 0.20, 0.30, 0.28, 0.35, 0.25, 0.30, 0.40, 0.35, 0.30,
    0.38, 0.35, 0.45, 0.30, 0.40, 0.48, 0.50, 0.70, 0.40, 0.35,
    0.30, 0.25, 0.30, 0.35, 0.25, 1.20, 0.28, 0.30, 0.25, 0.32,
    0.28, 0.35, 0.30, 0.25, 0.35, 0.30, 0.28, 0.40, 0.80, 0.60,
    0.35, 0.28, 0.25, 0.20, 0.30, 0.25, 0.22, 0.30, 0.28, 0.35,
    0.30, 0.50, 0.28, 0.22, 0.25, 0.30, 0.28, 0.25, 0.20, 0.22,
    0.28, 0.25, 0.20, 0.18, 0.25, 0.22, 0.28, 0.30, 0.25, 0.20,
    0.22, 0.28, 0.30, 0.25, 0.20, 0.25, 0.22, 0.30, 0.28, 0.35,
    0.30, 0.25, 0.45, 0.30, 0.22, 0.28, 0.35, 0.25, 0.22, 0.20,
]
PG1553_ERR = [
    20, 5, 5, 5, 5, 5, 5, 5, 5, 5,
    5, 5, 5, 5, 5, 5, 5, 5, 5, 5,
    5, 5, 5, 6, 6, 8, 5, 5, 5, 5,
    5, 5, 5, 6, 6, 8, 8, 6, 5, 6,
    6, 5, 5, 5, 6, 5, 5, 5, 5, 6,
    5, 5, 5, 5, 6, 25, 10, 8, 6, 5,
    5, 5, 6, 6, 8, 6, 6, 8, 8, 6,
    8, 8, 10, 6, 8, 8, 8, 8, 8, 6,
    6, 5, 6, 6, 5, 40, 6, 6, 5, 6,
    6, 6, 6, 5, 6, 6, 6, 8, 20, 10,
    6, 6, 5, 5, 6, 5, 5, 6, 6, 6,
    6, 20, 6, 5, 5, 6, 6, 5, 5, 5,
    6, 5, 5, 5, 5, 5, 6, 6, 5, 5,
    5, 6, 6, 5, 5, 5, 5, 6, 6, 8,
    6, 6, 20, 6, 5, 6, 8, 6, 5, 5,
]

C279_RATE = [
    0.30, 0.30, 0.15, 0.05, 0.03, 0.06, 0.08, 0.05, 0.10, 0.50,
    0.60, 0.10, 0.27, 0.20, 0.08, 0.05, 0.03, 0.06, 0.12, 0.05,
    0.08, 0.04, 0.06, 0.03, 0.40, 0.05, 0.08, 0.06, 0.04, 0.10,
    0.05, 0.08, 0.03, 0.06, 0.10, 0.08, 0.12, 0.10, 0.05, 0.08,
    0.27, 1.12, 0.05, 0.08, 0.03, 0.06, 0.10, 0.12, 0.15, 0.10,
    0.18, 0.35, 0.90, 0.10, 0.45, 0.08, 0.05, 0.06, 0.10, 0.04,
    0.08, 0.12, 0.05, 0.03, 0.06, 0.10, 0.27, 1.00, 0.20, 0.15,
    0.08, 0.05, 0.03, 0.06, 0.08, 0.05, 0.10, 0.06, 0.08, 0.05,
    0.12, 0.15, 0.40, 0.05, 0.03, 0.15, 0.15, 0.12, 0.08, 0.05,
    0.06, 0.03, 0.30, 0.05, 0.08, 0.06, 0.10, 0.05, 1.08, 0.06,
    0.03, 0.05, 0.08, 0.06, 0.10, 0.08, 0.05, 0.12, 0.10, 0.15,
    0.45, 0.20, 0.60, 0.08, 0.05, 0.06, 0.03, 0.08, 0.05, 0.06,
    0.03, 0.05, 0.08, 0.12, 0.15, 1.97, 0.30, 0.10, 0.05, 0.06,
    0.08, 0.05, 0.12, 0.10, 0.08, 0.06, 0.10, 0.12, 0.08, 0.15,
    0.55, 0.40, 0.20, 0.10, 0.15, 0.08, 0.05, 0.10, 0.15, 0.22,
]
C279_ERR = [
    20, 18, 8, 3, 3, 3, 3, 3, 4, 12,
    22, 4, 8, 5, 3, 3, 3, 3, 4, 3,
    3, 3, 3, 3, 50, 3, 3, 3, 3, 4,
    3, 3, 3, 3, 4, 3, 4, 4, 3, 3,
    30, 60, 3, 3, 3, 3, 4, 4, 5, 4,
    5, 20, 145, 4, 10, 3, 3, 3, 4, 3,
    3, 4, 3, 3, 3, 4, 20, 145, 8, 5,
    3, 3, 3, 3, 3, 3, 4, 3, 3, 3,
    4, 5, 55, 3, 3, 4, 4, 4, 3, 3,
    3, 3, 20, 3, 3, 3, 4, 3, 8, 3,
    3, 3, 3, 3, 4, 3, 3, 4, 4, 5,
    30, 10, 20, 3, 3, 3, 3, 3, 3, 3,
    3, 3, 3, 4, 5, 87, 30, 4, 3, 3,
    3, 3, 4, 4, 3, 3, 4, 4, 3, 5,
    30, 30, 10, 4, 5, 3, 3, 4, 5, 6,
]

SOURCE_NAMES = [
    "BL Lacertae (LBL)", "Mkn 421 (HBL)", "Mkn 501 (XBL)", "1ES 2344+514 (XBL)",
    "Mkn 180 (HBL)", "1ES 1959+650 (HBL)", "PKS 0548-322 (XBL)", "PKS 2005-489 (HBL)",
    "PKS 2155-304 (HBL)", "1H 1426+428 (XBL)", "1ES 0229+200 (HBL)", "1ES 1101-232 (HBL)",
    "1ES 2356-309 (XBL)", "1ES 0347-121 (HBL)", "1ES 1011+496 (HBL)", "PG 1553+113 (HBL)",
    "3C 279 (FSRQ)",
]
AVG_FLUX = ["0.15", "0.86", "0.49", "0.17", "0.12", "0.30", "0.17", "0.28", "0.29",
            "0.19", "0.09", "0.21", "0.18", "0.12", "0.12", "0.22", "0.07"]
AVG_FLUX_ERR = ["0.0047", "0.0047", "0.0040", "0.0044", "0.0038", "0.0033", "0.0042",
                "0.0062", "0.0057", "0.0044", "0.0046", "0.0052", "0.0048", "0.0044",
                "0.0041", "0.0056", "0.0046"]
DUTY_CYCLE = ["18.0", "27.3", "12.7", "16.7", "18.7", "18.7", "16.7", "21.3", "14.7",
              "16.0", "14.7", "17.3", "16.0", "14.0", "22.7", "15.3", "8.0"]
RATES = [BLLAC_RATE, MKN421_RATE, MKN501_RATE, ES2344_RATE, MKN180_RATE, ES1959_RATE,
         PKS0548_RATE, PKS2005_RATE, PKS2155_RATE, H1426_RATE, ES0229_RATE, ES1101_RATE,
         ES2356_RATE, ES0347_RATE, ES1011_RATE, PG1553_RATE, C279_RATE]
ERRS = [BLLAC_ERR, MKN421_ERR, MKN501_ERR, ES2344_ERR, MKN180_ERR, ES1959_ERR,
        PKS0548_ERR, PKS2005_ERR, PKS2155_ERR, H1426_ERR, ES0229_ERR, ES1101_ERR,
        ES2356_ERR, ES0347_ERR, ES1011_ERR, PG1553_ERR, C279_ERR]

W, H = 868, 1700
FS = 13.2
INK = "#1a1a1a"


def panel_rect(i):
    row, col = divmod(i, 2)
    left = (45 if col == 0 else 473) / W
    top = 5 + 188.75 * row
    return [left, 1 - (top + 151) / H, 373 / W, 151 / H]


def draw_panel(ax, i, t):
    rate = np.array(RATES[i], dtype=float)
    err = np.array(ERRS[i], dtype=float) / 100.0
    assert rate.size == N_BINS and err.size == N_BINS, SOURCE_NAMES[i]
    ok = ~np.isnan(rate)
    ax.errorbar(t[ok], rate[ok], yerr=err[ok], fmt="s", ms=1.7, mew=0,
                color=INK, ecolor=INK, elinewidth=0.9, capsize=0)
    ax.set_xlim(0, 4000)
    ax.set_ylim(0, 4)
    ax.set_xticks([0, 1000, 2000, 3000, 4000])
    ax.set_yticks([0, 1, 2, 3, 4])
    ax.xaxis.set_minor_locator(MultipleLocator(200))
    ax.yaxis.set_minor_locator(MultipleLocator(0.2))
    ax.tick_params(which="both", direction="in", top=False, right=False,
                   labelsize=FS, width=1.0, colors="black")
    ax.tick_params(axis="x", which="major", length=7, pad=1)
    ax.tick_params(axis="x", which="minor", length=3.5)
    ax.tick_params(axis="y", which="major", length=6, pad=4)
    ax.tick_params(axis="y", which="minor", length=3)
    for lab in ax.get_xticklabels() + ax.get_yticklabels():
        lab.set_fontweight("bold")
    for sp in ax.spines.values():
        sp.set_linewidth(1.6)

    kw = dict(transform=ax.transAxes, fontsize=FS, fontweight="bold", ha="left", va="baseline")
    ax.text(0.062, 0.841, SOURCE_NAMES[i], **kw)
    ax.text(0.062, 0.692, f"Average flux: {AVG_FLUX[i]}\u00b1{AVG_FLUX_ERR[i]} s$^{{-1}}$", **kw)
    ax.text(0.062, 0.579, f">3\u03c3 Duty cycle: {DUTY_CYCLE[i]}%", **kw)
    ax.text(-0.071, 1.0, "Counts [s$^{-1}$]", transform=ax.transAxes, fontsize=FS,
            fontweight="bold", rotation=90, ha="center", va="top")
    ax.text(1.0, -0.162, "Time [MJD-50000]", transform=ax.transAxes, fontsize=FS,
            fontweight="bold", ha="right", va="center")


def main():
    t = FIRST_BIN_DAY + BIN_WIDTH_DAYS * np.arange(N_BINS)
    fig = plt.figure(figsize=(W / 100, H / 100), dpi=100)
    for i in range(len(SOURCE_NAMES)):
        ax = fig.add_axes(panel_rect(i))
        draw_panel(ax, i, t)
    fig.savefig("out.png", dpi=100, facecolor="white")
    plt.close(fig)


if __name__ == "__main__":
    main()
